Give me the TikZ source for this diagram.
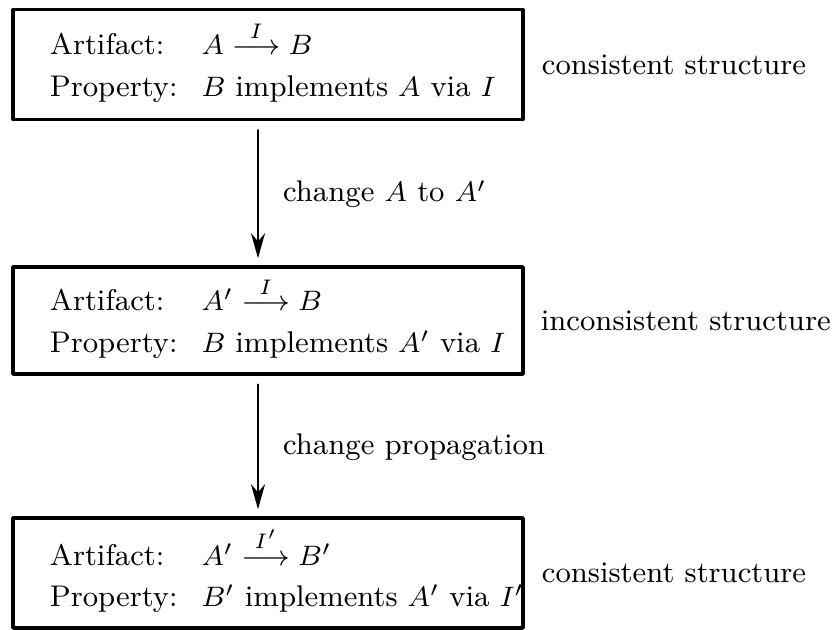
\documentclass[tikz,border=0pt]{standalone}
\usepackage{amsmath}
\usepackage{tikz}
\usetikzlibrary{positioning}
\usetikzlibrary{arrows.meta}
\tikzstyle{every node}=[font=\fontsize{8.5}{11.9}\selectfont]
\tikzstyle{every path}=[line width=0.8pt,line cap=round,line join=round]
\tikzstyle{stagebox}=[draw,line width=1pt,text width=4.36cm,minimum height=1.1cm,inner xsep=0.37cm,inner ysep=1pt,align=left]

\begin{document}
\begin{tikzpicture}
\useasboundingbox (0,0) rectangle (8.37,-6.30);

\node[stagebox] (orig) at (2.68,-0.645)
{\begin{tabular}{@{}l@{\hspace{0.8em}}l@{}}
Artifact: & $A \stackrel{I}{\longrightarrow} B$\\
Property: & $B$ implements $A$ via $I$
\end{tabular}};
\node[right=0.04cm of orig] (origlab) {consistent structure};

\node[stagebox,minimum height=1.07cm] (changed) at (2.68,-3.205)
{\begin{tabular}{@{}l@{\hspace{0.8em}}l@{}}
Artifact: & $A' \stackrel{I}{\longrightarrow} B$\\
Property: & $B$ implements $A'$ via $I$
\end{tabular}};
\node[right=0.03cm of changed] (changedlab) {inconsistent structure};

\node[stagebox] (fixed) at (2.68,-5.73)
{\begin{tabular}{@{}l@{\hspace{0.8em}}l@{}}
Artifact: & $A' \stackrel{I'}{\longrightarrow} B'$\\
Property: & $B'$ implements $A'$ via $I'$
\end{tabular}};
\node[right=0.04cm of fixed] (fixedlab) {consistent structure};

\draw[-{Stealth[length=2.5mm,width=1.4mm]}] ([xshift=-1mm,yshift=-0.9mm]orig.south) -- ([xshift=-1mm,yshift=0.7mm]changed.north)
  node[midway,right=0.12cm] (step1) {change $A$ to $A'$};
\draw[-{Stealth[length=2.5mm,width=1.4mm]}] ([xshift=-1mm,yshift=-0.9mm]changed.south) -- ([xshift=-1mm,yshift=0.7mm]fixed.north)
  node[midway,right=0.12cm] (step2) {change propagation};
\end{tikzpicture}
\end{document}
